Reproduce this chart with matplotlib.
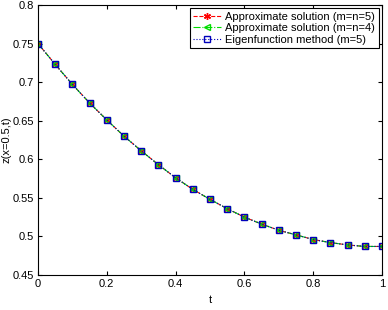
import matplotlib
matplotlib.use("Agg")
import matplotlib.pyplot as plt
import numpy as np

t = [0.0, 0.05, 0.1, 0.15, 0.2, 0.25, 0.3, 0.35, 0.4, 0.45, 0.5,
     0.55, 0.6, 0.65, 0.7, 0.75, 0.8, 0.85, 0.9, 0.95, 1.0]
z_m5 = [0.750, 0.723, 0.697, 0.673, 0.651, 0.630, 0.611, 0.593, 0.576, 0.561, 0.548,
        0.536, 0.525, 0.516, 0.508, 0.502, 0.496, 0.492, 0.489, 0.487, 0.487]
z_m4 = list(z_m5)
z_eig = list(z_m5)

plt.rcParams['font.family'] = ['Liberation Sans', 'DejaVu Sans']
fig = plt.figure(figsize=(3.88, 3.10), dpi=100)
ax = fig.add_axes([38/388, 35/310, 344/388, 270/310])

ax.plot(t, z_m5, linestyle='--', color='red', marker=(6, 2, 0), markersize=5,
        linewidth=0.8, label='Approximate solution (m=n=5)')
ax.plot(t, z_m4, linestyle='-.', color='#00dd00', marker='<', markersize=5,
        markerfacecolor='none', linewidth=0.8, label='Approximate solution (m=n=4)')
ax.plot(t, z_eig, linestyle=':', color='#0000bb', marker='s', markersize=5,
        markerfacecolor='none', linewidth=0.8, label='Eigenfunction method (m=5)')

ax.set_xlim(0, 1)
ax.set_ylim(0.45, 0.8)
ax.set_xticks([0, 0.2, 0.4, 0.6, 0.8, 1])
ax.set_xticklabels(['0', '0.2', '0.4', '0.6', '0.8', '1'])
ax.set_yticks([0.45, 0.5, 0.55, 0.6, 0.65, 0.7, 0.75, 0.8])
ax.set_yticklabels(['0.45', '0.5', '0.55', '0.6', '0.65', '0.7', '0.75', '0.8'])
ax.tick_params(direction='in', labelsize=8, length=3, top=True, right=True, pad=3)
ax.set_xlabel('t', fontsize=8, labelpad=4)
ax.set_ylabel('z(x=0.5,t)', fontsize=8)
ax.yaxis.set_label_coords(-0.077, 0.5)
for s in ax.spines.values():
    s.set_linewidth(0.8)

leg = ax.legend(loc='upper right', fontsize=8, fancybox=False, edgecolor='black',
                framealpha=1, borderpad=0.3, labelspacing=0.15, handlelength=2.5,
                handletextpad=0.4, borderaxespad=0.3)
leg.get_frame().set_linewidth(0.8)

fig.savefig('out.png', dpi=100)
